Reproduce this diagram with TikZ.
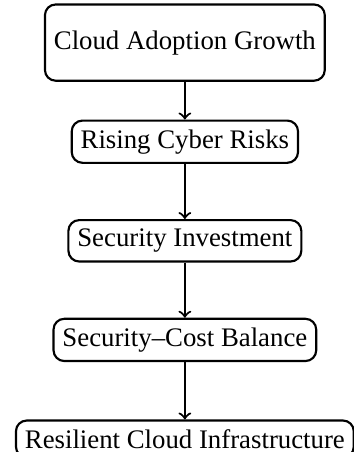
\documentclass[tikz,border=0pt]{standalone}
\usepackage{fontspec}
\setmainfont{Liberation Serif}
\usepackage{tikz}
\usetikzlibrary{positioning}

\begin{document}
\begin{tikzpicture}[node distance=1.3cm, on grid]
\tikzstyle{stage}=[draw, thick, rounded corners, align=center]
\tikzstyle{flow}=[thick,->]
\useasboundingbox (-69pt,15.9pt) rectangle (63.1pt,-152.8pt);
\node[stage, minimum height=1cm] (Adopt) {Cloud Adoption Growth};
\node[stage, below=of Adopt] (Risk) {Rising Cyber Risks};
\node[stage, below=of Risk] (Invest) {Security Investment};
\node[stage, below=of Invest] (Balance) {Security--Cost Balance};
\node[stage, below=of Balance] (Resil) {Resilient Cloud Infrastructure};

\draw [flow] (Adopt) -- (Risk);
\draw [flow] (Risk) -- (Invest);
\draw [flow] (Invest) -- (Balance);
\draw [flow] (Balance) -- (Resil);
\end{tikzpicture}
\end{document}
